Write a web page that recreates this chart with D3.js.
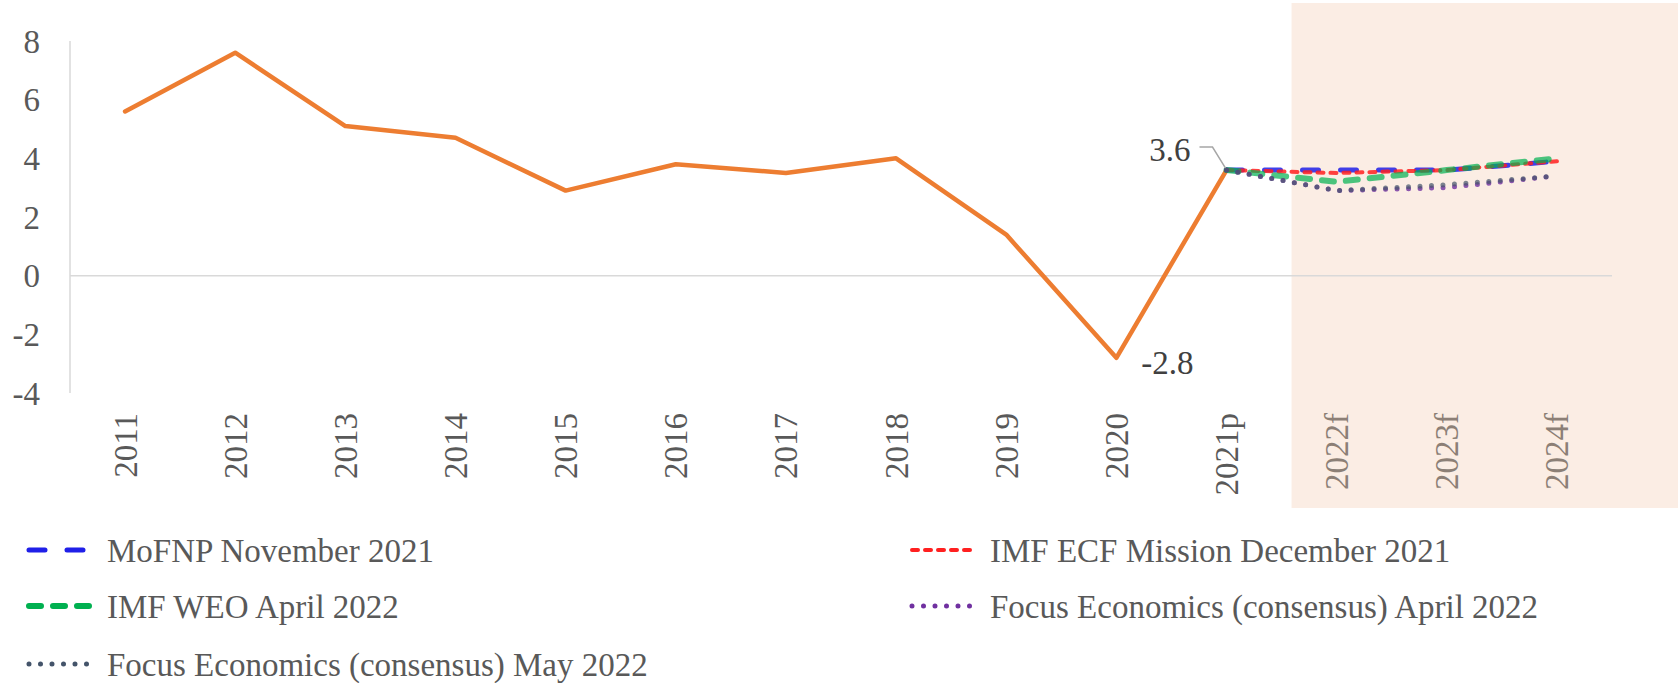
<!DOCTYPE html>
<meta charset="utf-8">
<style>
  html, body { margin: 0; padding: 0; background: #fff; }
  svg { display: block; font-family: "Liberation Serif", serif; }
  .tick-label { fill: #595959; font-size: 33px; }
  .legend-label { fill: #595959; font-size: 33px; }
  .data-label { fill: #404040; font-size: 33px; }
</style>
<svg id="chart" width="1678" height="683"></svg>
<script src="https://cdn.jsdelivr.net/npm/d3@7"></script>
<script>

  // categories on the x axis
  const categories = ["2011", "2012", "2013", "2014", "2015", "2016", "2017",
    "2018", "2019", "2020", "2021p", "2022f", "2023f", "2024f"]
  const forecastCats = ["2022f", "2023f", "2024f"]

  // real GDP growth, actual + preliminary
  const actualYears = ["2011", "2012", "2013", "2014", "2015", "2016", "2017",
    "2018", "2019", "2020", "2021p"]
  const actual = [5.6, 7.6, 5.1, 4.7, 2.9, 3.8, 3.5, 4.0, 1.4, -2.8, 3.6]

  // projections
  const projYears = ["2021p", "2022f", "2023f", "2024f"]
  const mofnp = [3.6, 3.6, 3.6, 3.9]
  const imfEcf = [3.6, 3.5, 3.6, 3.9]
  const imfWeo = [3.6, 3.2, 3.6, 4.0]
  const focusApr = [3.6, 2.9, 3.0, 3.4]
  const focusMay = [3.6, 2.9, 3.1, 3.4]

  const yTicks = [-4, -2, 0, 2, 4, 6, 8]

  const series = [
    { name: "MoFNP November 2021", values: mofnp, color: "#1f1fe8", width: 5, dash: "16 22", op: 0.85 },
    { name: "IMF ECF Mission December 2021", values: imfEcf, color: "#ff2020", width: 4, dash: "6 7", op: 0.85 },
    { name: "IMF WEO April 2022", values: imfWeo, color: "#00b050", width: 6, dash: "12 12", op: 0.7 },
    { name: "Focus Economics (consensus) April 2022", values: focusApr, color: "#7030a0", width: 5, dash: "0 11.5", op: 0.8 },
    { name: "Focus Economics (consensus) May 2022", values: focusMay, color: "#44546a", width: 5, dash: "0 11.5", op: 0.7 }
  ]

  const svg = d3.select("#chart")

  const x = d3.scaleBand().domain(categories).range([70, 1612])
  const y = d3.scaleLinear().domain([-4, 8]).range([393, 41])
  const cx = c => x(c) + x.bandwidth() / 2

  // forecast shading
  svg.append("rect")
    .attr("x", x(forecastCats[0]) + 10)
    .attr("y", 3)
    .attr("width", 1678 - x(forecastCats[0]) - 10)
    .attr("height", 505)
    .attr("fill", "#fbede4")

  // axis lines
  svg.append("line")
    .attr("x1", 70).attr("x2", 70)
    .attr("y1", y(8)).attr("y2", y(-4))
    .attr("stroke", "#d9d9d9").attr("stroke-width", 1.5)
  svg.append("line")
    .attr("x1", 70).attr("x2", x.range()[1])
    .attr("y1", y(0)).attr("y2", y(0))
    .attr("stroke", "#d9d9d9").attr("stroke-width", 1.5)

  // y tick labels
  svg.selectAll(".ytick")
    .data(yTicks)
    .join("text")
    .attr("class", "tick-label")
    .attr("x", 40)
    .attr("y", d => y(d))
    .attr("dy", "0.35em")
    .attr("text-anchor", "end")
    .text(d => d)

  // x tick labels, rotated
  svg.selectAll(".xtick")
    .data(categories)
    .join("text")
    .attr("class", "tick-label")
    .attr("transform", d => `translate(${cx(d)},413) rotate(-90)`)
    .attr("dy", "0.35em")
    .attr("text-anchor", "end")
    .style("fill", d => forecastCats.includes(d) ? "#8c7f76" : null)
    .text(d => d)

  const line = d3.line()
    .x(d => cx(d[0]))
    .y(d => y(d[1]))

  // actual line
  svg.append("path")
    .datum(d3.zip(actualYears, actual))
    .attr("d", line)
    .attr("fill", "none")
    .attr("stroke", "#ed7d31")
    .attr("stroke-width", 4.5)
    .attr("stroke-linejoin", "round")
    .attr("stroke-linecap", "round")

  // projection lines
  series.forEach(s => {
    svg.append("path")
      .datum(d3.zip(projYears, s.values))
      .attr("d", line)
      .attr("fill", "none")
      .attr("stroke", s.color)
      .attr("stroke-opacity", s.op)
      .attr("stroke-width", s.width)
      .attr("stroke-dasharray", s.dash)
      .attr("stroke-linecap", "round")
      .attr("stroke-linejoin", "round")
  })

  // data labels
  const last = actual.length - 1
  const p = [cx(actualYears[last]), y(actual[last])]
  svg.append("path")
    .attr("d", `M${p[0] - 1},${p[1] - 2}L${p[0] - 14},${p[1] - 23}L${p[0] - 27},${p[1] - 23}`)
    .attr("fill", "none")
    .attr("stroke", "#a6a6a6")
    .attr("stroke-width", 1.5)
  svg.append("text")
    .attr("class", "data-label")
    .attr("x", p[0] - 36)
    .attr("y", p[1] - 21)
    .attr("dy", "0.35em")
    .attr("text-anchor", "end")
    .text(actual[last].toFixed(1))

  const iMin = actual.indexOf(d3.min(actual))
  svg.append("text")
    .attr("class", "data-label")
    .attr("x", cx(actualYears[iMin]) + 25)
    .attr("y", y(actual[iMin]) + 5)
    .attr("dy", "0.35em")
    .text(actual[iMin].toFixed(1))

  // legend, two columns
  const legend = svg.append("g")
  series.forEach((s, i) => {
    const col = i % 2, row = Math.floor(i / 2)
    const lx = col === 0 ? 29 : 912
    const ly = [550, 606, 664][row]
    const g = legend.append("g").attr("transform", `translate(${lx},${ly})`)
    g.append("line")
      .attr("x1", 0).attr("x2", 60)
      .attr("y1", 0).attr("y2", 0)
      .attr("stroke", s.color)
      .attr("stroke-width", s.width)
      .attr("stroke-dasharray", s.dash)
      .attr("stroke-linecap", "round")
    g.append("text")
      .attr("class", "legend-label")
      .attr("x", 78)
      .attr("dy", "0.35em")
      .text(s.name)
  })

</script>
